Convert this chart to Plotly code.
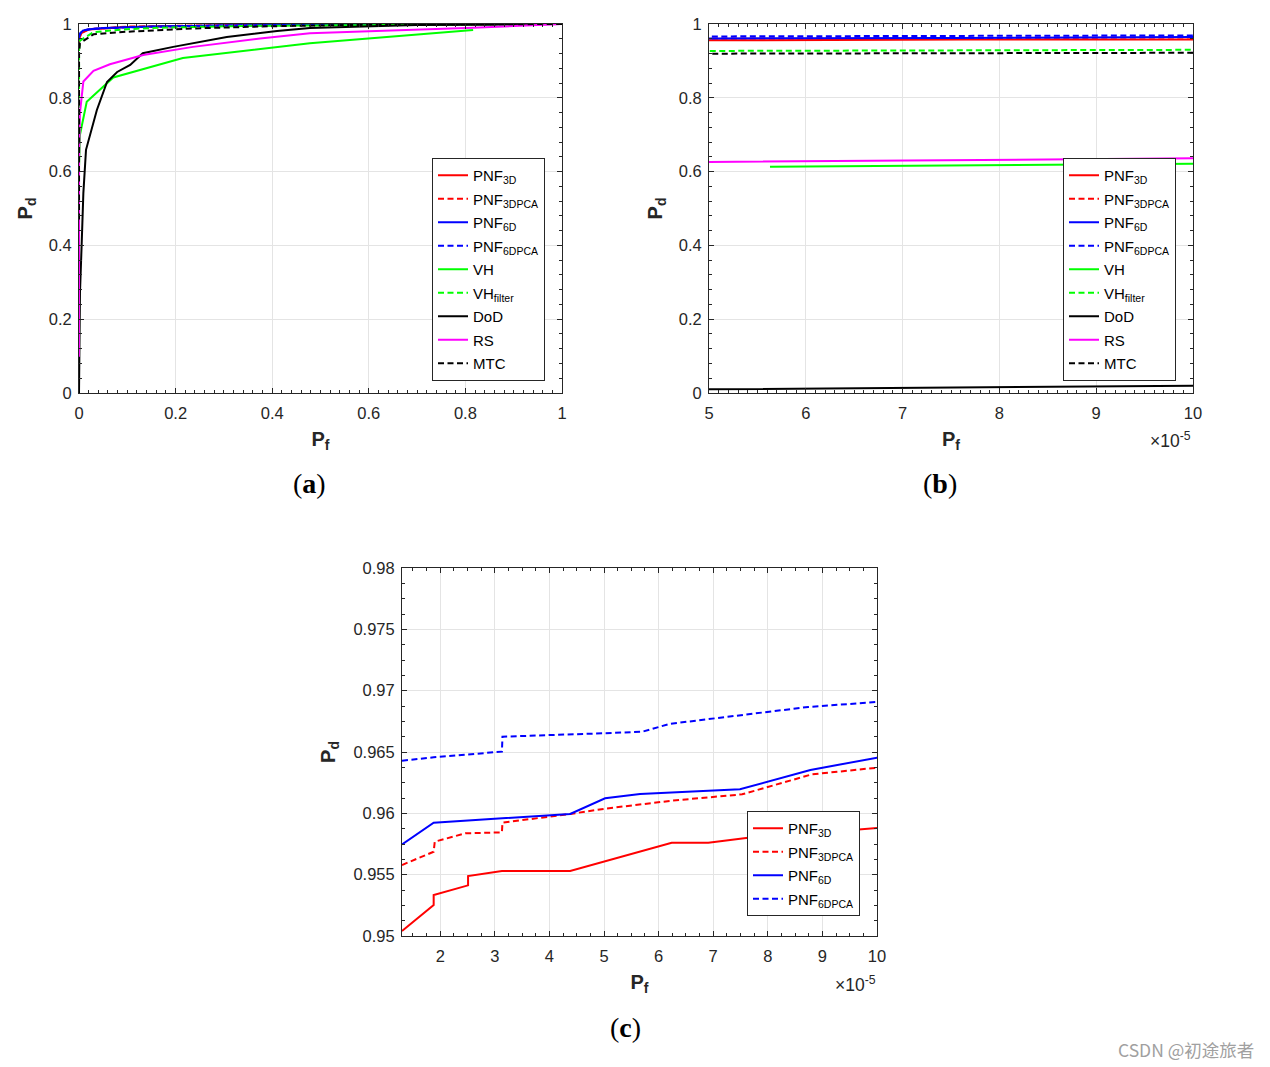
import plotly.graph_objects as go

W, H = 1270, 1067

# ---------------- data (Pf, Pd) ----------------
names = ["PNF<sub>3D</sub>", "PNF<sub>3DPCA</sub>", "PNF<sub>6D</sub>", "PNF<sub>6DPCA</sub>",
         "VH", "VH<sub>filter</sub>", "DoD", "RS", "MTC"]

pnf3d_pf = [1.3e-5, 1.88e-5, 1.88e-5, 2.51e-5, 2.51e-5, 3.13e-5, 4.38e-5, 6.24e-5, 6.91e-5,
            7.64e-5, 8.6e-5, 1.0e-4, 0.005, 0.02, 0.1, 0.3, 0.6, 1.0]
pnf3d_pd = [0.9504, 0.95253, 0.95334, 0.95413, 0.95489, 0.9553, 0.9553, 0.9576, 0.9576,
            0.9580, 0.9583, 0.9588, 0.975, 0.985, 0.992, 0.996, 0.999, 1.0]

pnf3dpca_pf = [1.3e-5, 1.88e-5, 1.9e-5, 2.46e-5, 3.13e-5, 3.14e-5, 4.38e-5, 5.02e-5, 6.24e-5,
               7.53e-5, 8.81e-5, 1.0e-4, 0.005, 0.02, 0.1, 0.3, 0.6, 1.0]
pnf3dpca_pd = [0.95579, 0.95687, 0.95769, 0.95837, 0.95845, 0.95924, 0.95995, 0.96038, 0.96103,
               0.96155, 0.96318, 0.96372, 0.976, 0.986, 0.993, 0.997, 0.999, 1.0]

pnf6d_pf = [1.3e-5, 1.88e-5, 4.38e-5, 5.02e-5, 5.66e-5, 7.49e-5, 8.78e-5, 1.0e-4,
            0.003, 0.008, 0.017, 0.05, 0.15, 0.3, 0.6, 1.0]
pnf6d_pd = [0.95747, 0.95924, 0.95995, 0.96123, 0.96158, 0.96196, 0.96353, 0.96454,
            0.975, 0.982, 0.985, 0.989, 0.993, 0.996, 0.999, 1.0]

pnf6dpca_pf = [1.3e-5, 1.88e-5, 3.13e-5, 3.14e-5, 5.02e-5, 5.7e-5, 6.21e-5, 7.49e-5, 8.74e-5, 1.0e-4,
               0.003, 0.01, 0.03, 0.1, 0.3, 0.6, 1.0]
pnf6dpca_pd = [0.96429, 0.96457, 0.96503, 0.96625, 0.96653, 0.96665, 0.9673, 0.9680, 0.96867, 0.96908,
               0.976, 0.983, 0.987, 0.991, 0.996, 0.999, 1.0]

vh_pf = [5.63e-5, 1.0e-4, 0.002, 0.016, 0.071, 0.215, 0.478, 0.65, 0.816]
vh_pd = [0.613, 0.621, 0.70, 0.789, 0.855, 0.908, 0.948, 0.966, 0.984]

vhf_pf = [0, 1e-5, 5e-5, 1.0e-4, 0.002, 0.03, 0.1, 0.168, 0.35, 0.7, 1.0]
vhf_pd = [0.0, 0.92, 0.927, 0.930, 0.955, 0.978, 0.986, 0.990, 0.995, 0.998, 1.0]

dod_pf = [0, 5e-5, 1.0e-4, 0.002, 0.0056, 0.009, 0.0145, 0.023, 0.037, 0.058, 0.079, 0.106,
          0.132, 0.195, 0.306, 0.41, 0.478, 0.7, 1.0]
dod_pd = [0.0, 0.0108, 0.0198, 0.271, 0.406, 0.541, 0.659, 0.699, 0.767, 0.843, 0.870, 0.889,
          0.921, 0.938, 0.965, 0.981, 0.989, 0.997, 1.0]

rs_pf = [0, 5e-5, 1.0e-4, 0.002, 0.0055, 0.009, 0.03, 0.064, 0.133, 0.236, 0.375, 0.478, 0.816, 1.0]
rs_pd = [0.098, 0.626, 0.636, 0.76, 0.799, 0.844, 0.873, 0.891, 0.916, 0.938, 0.961, 0.975, 0.990, 1.0]

mtc_pf = [0, 1e-5, 5e-5, 1.0e-4, 0.002, 0.03, 0.099, 0.237, 0.4, 0.6, 1.0]
mtc_pd = [0.47, 0.91, 0.9196, 0.922, 0.948, 0.972, 0.979, 0.988, 0.994, 0.998, 1.0]

curves = [(pnf3d_pf, pnf3d_pd), (pnf3dpca_pf, pnf3dpca_pd), (pnf6d_pf, pnf6d_pd),
          (pnf6dpca_pf, pnf6dpca_pd), (vh_pf, vh_pd), (vhf_pf, vhf_pd), (dod_pf, dod_pd),
          (rs_pf, rs_pd), (mtc_pf, mtc_pd)]

# tick labels
a_ticks = [0, 0.2, 0.4, 0.6, 0.8, 1]
a_ticktext = ["0", "0.2", "0.4", "0.6", "0.8", "1"]
b_xticks = [5e-5, 6e-5, 7e-5, 8e-5, 9e-5, 1e-4]
b_xticktext = ["5", "6", "7", "8", "9", "10"]
c_xticks = [2e-5, 3e-5, 4e-5, 5e-5, 6e-5, 7e-5, 8e-5, 9e-5, 1e-4]
c_xticktext = ["2", "3", "4", "5", "6", "7", "8", "9", "10"]
c_yticks = [0.95, 0.955, 0.96, 0.965, 0.97, 0.975, 0.98]
c_yticktext = ["0.95", "0.955", "0.96", "0.965", "0.97", "0.975", "0.98"]

# ---------------- styles ----------------
colors = ["#ff0000", "#ff0000", "#0000ff", "#0000ff", "#00ff00", "#00ff00", "#000000", "#ff00ff", "#000000"]
DASH = "6px,3.5px"
dashes = ["solid", DASH, "solid", DASH, "solid", DASH, "solid", "solid", DASH]

fig = go.Figure()
panels = [("x", "y", "legend", range(9)),
          ("x2", "y2", "legend2", range(9)),
          ("x3", "y3", "legend3", range(4))]
for pi, (xa, ya, lg, idxs) in enumerate(panels):
    for i in idxs:
        pf, pd = curves[i]
        fig.add_trace(go.Scatter(
            x=pf, y=pd, mode="lines", name=names[i],
            line=dict(color=colors[i], width=2, dash=dashes[i]),
            xaxis=xa, yaxis=ya, legend=lg, legendgroup=f"g{pi}_{i}",
        ))

AX = "#262626"
GRID = "#e4e4e4"
TICKFONT = dict(family="Liberation Sans, Arial", size=16.5, color=AX)
TITLEFONT = dict(family="Liberation Sans, Arial", size=20, color=AX)


def px_x(p):
    return p / W


def px_y(p):
    return 1 - p / H


def axis(domain, rng, anchor, title, tickvals, ticktext, minor_dtick, minor_tick0, standoff, lstand):
    return dict(
        domain=domain, range=rng, anchor=anchor,
        title=dict(text=title, font=TITLEFONT, standoff=standoff),
        tickmode="array", tickvals=tickvals, ticktext=ticktext,
        ticks="inside", ticklen=5, tickwidth=1, tickcolor=AX,
        minor=dict(ticks="inside", ticklen=3, tickwidth=1, tickcolor=AX,
                   dtick=minor_dtick, tick0=minor_tick0, showgrid=False),
        showline=True, linecolor=AX, linewidth=1, mirror="allticks",
        showgrid=True, gridcolor=GRID, gridwidth=1, zeroline=False,
        tickfont=TICKFONT, ticklabelstandoff=lstand,
    )


ya_dom = [px_y(393), px_y(24)]
fig.update_layout(
    width=W, height=H, autosize=False,
    margin=dict(l=0, r=0, t=0, b=0, autoexpand=False),
    paper_bgcolor="white", plot_bgcolor="white",
    xaxis=axis([px_x(79), px_x(562)], [0, 1], "y", "<b>P<sub>f</sub></b>", a_ticks, a_ticktext, 0.02, 0, 11, 5),
    yaxis=axis(ya_dom, [0, 1], "x", "<b>P<sub>d</sub></b>", a_ticks, a_ticktext, 0.04, 0, 10, 3),
    xaxis2=axis([px_x(709), px_x(1193)], [5e-5, 1e-4], "y2", "<b>P<sub>f</sub></b>", b_xticks, b_xticktext, 1e-6, 5e-5, 11, 5),
    yaxis2=axis(ya_dom, [0, 1], "x2", "<b>P<sub>d</sub></b>", a_ticks, a_ticktext, 0.04, 0, 10, 3),
    xaxis3=axis([px_x(402), px_x(877)], [1.3e-5, 1e-4], "y3", "<b>P<sub>f</sub></b>", c_xticks, c_xticktext, 2.5e-6, 2e-5, 11, 5),
    yaxis3=axis([px_y(936), px_y(568)], [0.95, 0.98], "x3", "<b>P<sub>d</sub></b>", c_yticks, c_yticktext, 0.00125, 0.95, 12, 3),
    showlegend=True,
)

LEGFONT = dict(family="Liberation Sans, Arial", size=15, color="black")


def leg(x, y):
    return dict(x=px_x(x), y=px_y(y), xanchor="left", yanchor="top", xref="paper", yref="paper",
                bordercolor=AX, borderwidth=1, bgcolor="white", font=LEGFONT,
                tracegroupgap=1, itemwidth=30)


fig.update_layout(legend=leg(432, 158), legend2=leg(1063, 158), legend3=leg(747, 811))

ann = []
for txt, x, y in [("(<b>a</b>)", 309, 484), ("(<b>b</b>)", 940, 484), ("(<b>c</b>)", 625, 1027)]:
    ann.append(dict(text=txt, x=px_x(x), y=px_y(y), xref="paper", yref="paper", showarrow=False,
                    font=dict(family="Liberation Serif, DejaVu Serif", size=28, color="black"),
                    xanchor="center", yanchor="middle"))
for x, y in [(1170, 440), (855, 984)]:
    ann.append(dict(text="×10<sup>-5</sup>", x=px_x(x), y=px_y(y), xref="paper", yref="paper",
                    showarrow=False, font=dict(family="Liberation Sans, Arial", size=17.5, color=AX),
                    xanchor="center", yanchor="middle"))
ann.append(dict(text="CSDN @初途旅者", x=px_x(1186), y=px_y(1049), xref="paper", yref="paper",
                showarrow=False, font=dict(family="Noto Sans CJK SC", size=17.5, color="#a0a0a0"),
                xanchor="center", yanchor="middle"))
fig.update_layout(annotations=ann)

fig.write_html("out.html", config={"displayModeBar": False},
               post_script="document.body.style.margin='0';document.body.style.overflow='hidden';")
